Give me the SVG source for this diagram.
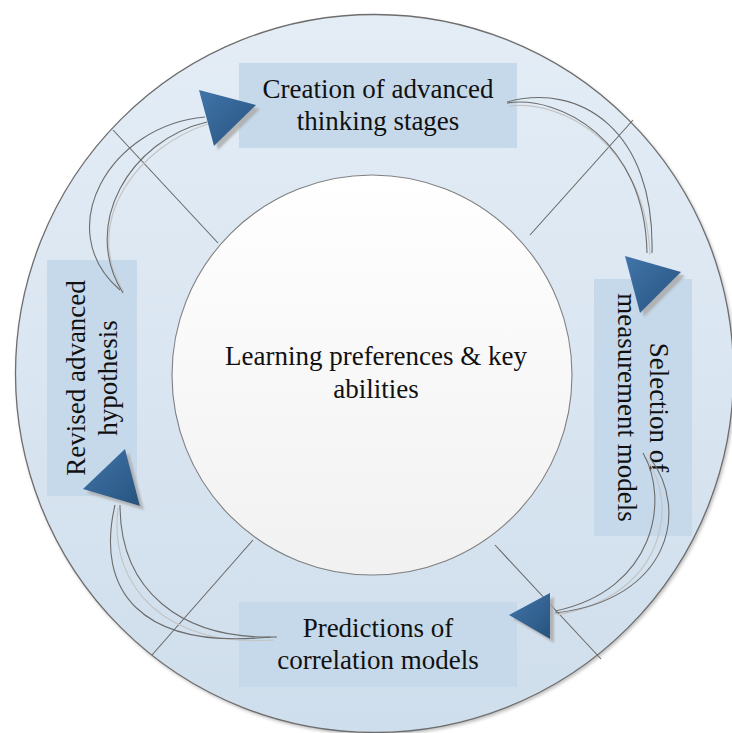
<svg xmlns="http://www.w3.org/2000/svg" width="732" height="733" viewBox="0 0 732 733">
  <defs>
    <linearGradient id="ringFill" x1="0" y1="0" x2="0" y2="1">
      <stop offset="0" stop-color="#e4edf6"/>
      <stop offset="1" stop-color="#cfdeec"/>
    </linearGradient>
    <linearGradient id="coreFill" x1="0" y1="0" x2="0" y2="1">
      <stop offset="0" stop-color="#ffffff"/>
      <stop offset="1" stop-color="#f1f1f1"/>
    </linearGradient>
    <linearGradient id="triFill" x1="0" y1="0" x2="1" y2="1">
      <stop offset="0" stop-color="#4174a9"/>
      <stop offset="1" stop-color="#27547f"/>
    </linearGradient>
    <filter id="triShadow" x="-30%" y="-30%" width="160%" height="160%">
      <feDropShadow dx="4" dy="4" stdDeviation="1.2" flood-color="#a9a9a9" flood-opacity="0.8"/>
    </filter>
    <filter id="ringShadow" x="-5%" y="-5%" width="110%" height="110%">
      <feDropShadow dx="1.5" dy="2" stdDeviation="1.5" flood-color="#888" flood-opacity="0.5"/>
    </filter>
    <style>
      .box { fill: #c6d9ea; }
      .label { font-family: "Liberation Serif", "Times New Roman", serif; font-size: 27px; fill: #111; text-anchor: middle; }
      .divider { stroke: #686868; stroke-width: 1.1; fill: none; }
      .curve { stroke: #6c6c6c; stroke-width: 1.1; fill: none; }
      .curve-glow { stroke: #c4c4c4; stroke-width: 1.2; fill: none; }
      .tri { fill: url(#triFill); filter: url(#triShadow); }
    </style>
  </defs>

  <rect width="732" height="733" fill="#ffffff"/>

  <!-- outer ring -->
  <g id="ring">
    <circle cx="374.5" cy="373.5" r="359" fill="url(#ringFill)" stroke="#6e6e6e" stroke-width="1.3" filter="url(#ringShadow)"/>
    <line class="divider" x1="218" y1="243" x2="113" y2="130"/>
    <line class="divider" x1="530" y1="235" x2="633" y2="120"/>
    <line class="divider" x1="495" y1="545" x2="601" y2="659"/>
    <line class="divider" x1="253" y1="540" x2="152" y2="655"/>
  </g>

  <!-- central circle -->
  <g id="core">
    <circle cx="372" cy="375" r="200" fill="url(#coreFill)" stroke="#808080" stroke-width="1.1"/>
    <text class="label" x="376" y="365">Learning preferences &amp; key</text>
    <text class="label" x="376" y="398">abilities</text>
  </g>

  <g id="creation">
    <rect class="box" x="239" y="63" width="278" height="85"/>
    <text class="label" x="378" y="98">Creation of advanced</text>
    <text class="label" x="378" y="130">thinking stages</text>
  </g>

  <g id="selection">
    <rect class="box" x="594" y="279" width="98" height="257"/>
    <g transform="translate(643 407.5) rotate(90)">
      <text class="label" x="0" y="-7">Selection of</text>
      <text class="label" x="0" y="25">measurement models</text>
    </g>
  </g>

  <g id="predictions">
    <rect class="box" x="239" y="602" width="278" height="85"/>
    <text class="label" x="378" y="637">Predictions of</text>
    <text class="label" x="378" y="669">correlation models</text>
  </g>

  <g id="revised">
    <rect class="box" x="47" y="260" width="90" height="236"/>
    <g transform="translate(92 378) rotate(-90)">
      <text class="label" x="0" y="-7">Revised advanced</text>
      <text class="label" x="0" y="25">hypothesis</text>
    </g>
  </g>

  <!-- curved connectors with triangular heads -->
  <g id="connectors">
    <!-- revised -> creation -->
    <path class="curve-glow" d="M208,124 C138,146 80,222 124,292"/>
    <path class="curve" d="M205,117 C110,125 50,230 120,290"/>
    <path class="curve" d="M207,122 C130,140 80,225 123,293"/>
    <polygon class="tri" points="199,90 256,105 214,146"/>

    <!-- creation -> selection -->
    <path class="curve-glow" d="M509,106 C565,100 646,146 650,255"/>
    <path class="curve" d="M507,102 C580,82 655,130 652,253"/>
    <path class="curve" d="M507,103 C560,95 645,140 647,253"/>
    <polygon class="tri" points="625,256 681,272 640,313"/>

    <!-- selection -> predictions -->
    <path class="curve-glow" d="M646,458 C680,505 664,596 557,615"/>
    <path class="curve" d="M650,458 C690,510 670,600 555,613"/>
    <path class="curve" d="M643,453 C670,500 655,590 555,611"/>
    <polygon class="tri" points="509,615 550,593 550,639"/>

    <!-- predictions -> revised -->
    <path class="curve-glow" d="M118,508 C108,590 170,648 274,640"/>
    <path class="curve" d="M115,505 C95,590 140,650 270,637"/>
    <path class="curve" d="M120,505 C120,590 180,640 277,637"/>
    <polygon class="tri" points="83,489 125,449 140,506"/>
  </g>
</svg>
